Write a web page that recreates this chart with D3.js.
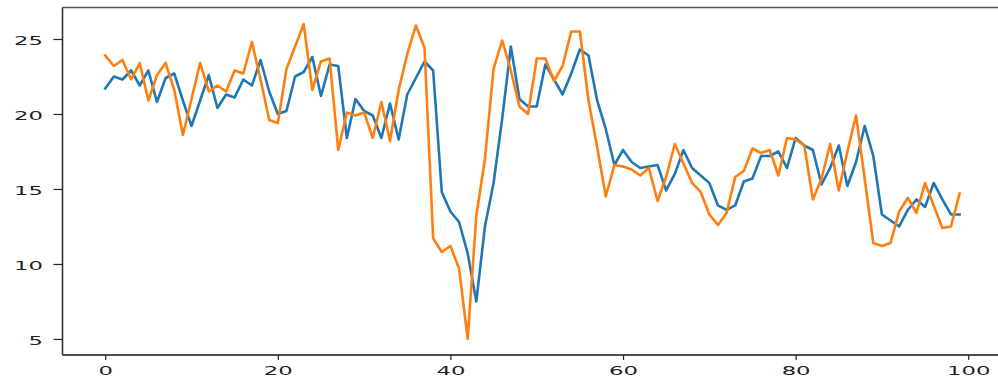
<!DOCTYPE html>
<html>
<head>
<meta charset="utf-8">
<script src="https://cdn.jsdelivr.net/npm/d3@7"></script>
<style>
  html, body { margin: 0; padding: 0; background: #fff; }
  svg { display: block; }
  .tick text { font-family: "DejaVu Sans", sans-serif; font-size: 13px; fill: #222; }
</style>
</head>
<body>
<svg id="chart" width="998" height="381"></svg>
<script>
// Two series sampled at steps 0..99
const steps = d3.range(100);
const seriesA = [21.7, 22.5, 22.3, 22.9, 21.9, 22.9, 20.8, 22.4, 22.7, 20.9,
  19.2, 20.9, 22.6, 20.4, 21.3, 21.1, 22.3, 21.9, 23.6, 21.5,
  20.0, 20.2, 22.5, 22.8, 23.8, 21.2, 23.3, 23.2, 18.4, 21.0,
  20.2, 19.9, 18.4, 20.7, 18.3, 21.3, 22.4, 23.5, 22.9, 14.8,
  13.5, 12.8, 10.7, 7.5, 12.5, 15.4, 19.7, 24.5, 21.0, 20.5,
  20.5, 23.3, 22.3, 21.3, 22.7, 24.3, 23.9, 20.9, 19.0, 16.6,
  17.6, 16.8, 16.4, 16.5, 16.6, 14.9, 16.0, 17.6, 16.4, 15.9,
  15.4, 13.9, 13.6, 13.9, 15.5, 15.7, 17.2, 17.2, 17.5, 16.4,
  18.4, 17.9, 17.6, 15.3, 16.4, 17.9, 15.2, 16.8, 19.2, 17.2,
  13.3, 12.9, 12.5, 13.6, 14.3, 13.8, 15.4, 14.3, 13.3, 13.3];
const seriesB = [23.9, 23.2, 23.6, 22.3, 23.4, 20.9, 22.6, 23.4, 21.6, 18.6,
  21.0, 23.4, 21.5, 21.9, 21.5, 22.9, 22.7, 24.8, 22.3, 19.6,
  19.4, 23.0, 24.5, 26.0, 21.6, 23.5, 23.7, 17.6, 20.1, 19.9,
  20.1, 18.4, 20.8, 18.2, 21.6, 24.0, 25.9, 24.4, 11.7, 10.8,
  11.2, 9.7, 5.0, 13.2, 17.0, 23.0, 24.9, 22.9, 20.5, 20.0,
  23.7, 23.7, 22.2, 23.2, 25.5, 25.5, 20.9, 17.8, 14.5, 16.6,
  16.5, 16.3, 15.9, 16.4, 14.2, 15.8, 18.0, 16.7, 15.4, 14.8,
  13.3, 12.6, 13.4, 15.8, 16.2, 17.7, 17.4, 17.6, 15.9, 18.4,
  18.3, 17.9, 14.3, 15.7, 18.0, 14.9, 17.5, 19.9, 15.7, 11.4,
  11.2, 11.4, 13.5, 14.4, 13.4, 15.4, 13.9, 12.4, 12.5, 14.7];
const xTicks = [0, 20, 40, 60, 80, 100];
const yTicks = [5, 10, 15, 20, 25];
const colors = ["#1f77b4", "#ff7f0e"];

const svg = d3.select("#chart");
const plotLeft = 62.5, plotTop = 7.5, plotBottom = 355;
const stretch = 1.75;

const x = d3.scaleLinear().domain([-4.95, 103.95]).range([plotLeft, plotLeft + 108.9 * 8.63]);
const y = d3.scaleLinear().domain([3.93, 27.1]).range([plotBottom, plotTop]);

// line series
const line = d3.line().x((d, i) => x(steps[i])).y(d => y(d));
[seriesA, seriesB].forEach((s, k) => {
  svg.append("path")
    .datum(s)
    .attr("fill", "none")
    .attr("stroke", colors[k])
    .attr("stroke-width", 2.6)
    .attr("stroke-linejoin", "round")
    .attr("stroke-linecap", "square")
    .attr("d", line);
});

// frame
svg.append("line").attr("x1", plotLeft).attr("x2", 998).attr("y1", plotTop).attr("y2", plotTop)
  .attr("stroke", "#555").attr("stroke-width", 1.6);
svg.append("line").attr("x1", plotLeft).attr("x2", 998).attr("y1", plotBottom).attr("y2", plotBottom)
  .attr("stroke", "#111").attr("stroke-width", 1.4);
svg.append("line").attr("x1", plotLeft).attr("x2", plotLeft).attr("y1", plotTop).attr("y2", plotBottom)
  .attr("stroke", "#333").attr("stroke-width", 1.6);

// axes
const xAxis = svg.append("g")
  .attr("transform", `translate(0,${plotBottom})`)
  .call(d3.axisBottom(x).tickValues(xTicks).tickSize(5).tickFormat(d3.format("d")));
xAxis.select(".domain").remove();
xAxis.selectAll(".tick line").attr("stroke", "#222").attr("stroke-width", 1.2);
xAxis.selectAll(".tick text")
  .attr("y", 0).attr("dy", null)
  .attr("transform", `translate(0,20) scale(${stretch},1)`);

const yAxis = svg.append("g")
  .attr("transform", `translate(${plotLeft},0)`)
  .call(d3.axisLeft(y).tickValues(yTicks).tickSize(9).tickFormat(d3.format("d")));
yAxis.select(".domain").remove();
yAxis.selectAll(".tick line").attr("stroke", "#222").attr("stroke-width", 1.2);
yAxis.selectAll(".tick text")
  .attr("x", 0).attr("dy", "0.35em")
  .attr("transform", `translate(-19.5,1) scale(${stretch},1)`);
</script>
</body>
</html>
